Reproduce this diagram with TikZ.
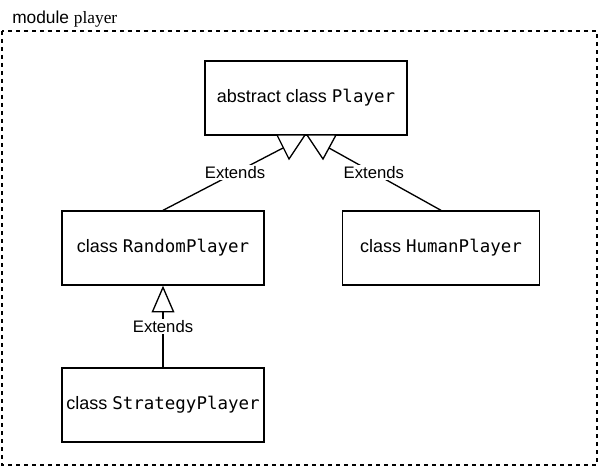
\documentclass[tikz,border=0pt]{standalone}
\usepackage{fontspec}
\setmainfont{Liberation Serif}
\setsansfont{Liberation Sans}
\setmonofont[Scale=0.97]{DejaVu Sans Mono}
\usetikzlibrary{arrows.meta, positioning}

\begin{document}
\begin{tikzpicture}[
    x=0.75pt, y=-0.75pt,
    cls/.style={rectangle, draw, line width=1pt, minimum width=151.5pt, minimum height=55.5pt, align=center, font=\sffamily\fontsize{13.5}{16}\selectfont},
    ext/.style={fill=white, inner sep=1pt, font=\sffamily\fontsize{12.5}{15}\selectfont},
    link/.style={line width=1pt},
    tri/.style={draw, line width=1pt, fill=white, line join=miter},
    inherit/.style={link, -{Triangle[open, length=20pt, width=17pt]}}
]
    \useasboundingbox (0,0) rectangle (600,467);

    % Module frame
    \draw[line width=1pt, dash pattern=on 3pt off 3pt] (2,31) rectangle (597,465);
    \node[anchor=base west, inner sep=0pt, font=\fontsize{13}{15}\selectfont] (title) at (12,24) {\sffamily module \rmfamily player};

    % Classes
    \node[cls] (player) at (306,98) {abstract class \texttt{Player}};
    \node[cls] (random) at (163,248) {class \texttt{RandomPlayer}};
    \node[cls, minimum width=147.75pt] (human) at (441,248) {class \texttt{HumanPlayer}};
    \node[cls] (strategy) at (163,405) {class \texttt{StrategyPlayer}};

    % Extends (upper pair ends on the triangles under Player)
    \coordinate (hitL) at (283,148);
    \coordinate (hitR) at (329,148);
    \draw[link] (random.north) -- node[ext, pos=0.6] {Extends} (hitL);
    \draw[link] (human.north) -- node[ext, pos=0.6] {Extends} (hitR);
    \draw[tri] (277,135) -- (305,135) -- (289,159) -- cycle;
    \draw[tri] (307,135) -- (336,135) -- (323,159) -- cycle;
    \draw[inherit] (strategy.north) -- node[ext] {Extends} (random.south);
\end{tikzpicture}
\end{document}
